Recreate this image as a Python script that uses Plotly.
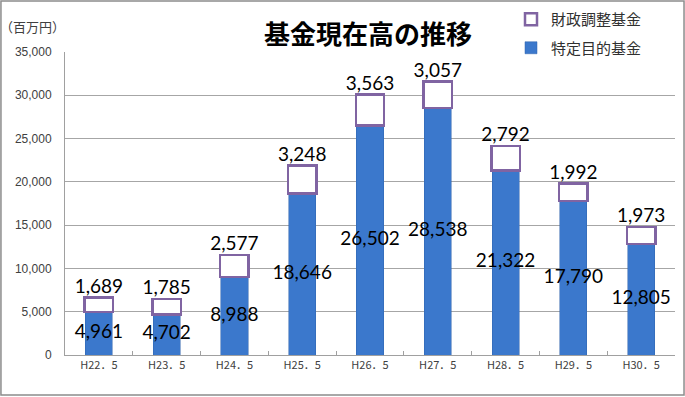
import plotly.graph_objects as go

categories = ["H22．5", "H23．5", "H24．5", "H25．5", "H26．5", "H27．5", "H28．5", "H29．5", "H30．5"]
tokutei = [4961, 4702, 8988, 18646, 26502, 28538, 21322, 17790, 12805]
zaisei = [1689, 1785, 2577, 3248, 3563, 3057, 2792, 1992, 1973]
totals = [a + b for a, b in zip(tokutei, zaisei)]
mids = [a / 2 for a in tokutei]

label_font = dict(family="Lato, Liberation Sans, sans-serif", size=19, color="#000000")

fig = go.Figure()
fig.add_trace(go.Bar(
    x=categories, y=tokutei, name="特定目的基金", width=0.4,
    legendgroup="b", legendrank=2,
    marker=dict(color="#3b78cc", line=dict(color="#2f63ad", width=0.5)),
))
fig.add_trace(go.Bar(
    x=categories, y=zaisei, name="財政調整基金", width=0.42,
    legendgroup="a", legendrank=1,
    marker=dict(color="#ffffff", line=dict(color="#8064a2", width=2.5)),
))
fig.add_trace(go.Scatter(
    x=categories, y=mids, mode="text", text=[f"{v:,}" for v in tokutei],
    textposition="middle center", textfont=label_font, showlegend=False, hoverinfo="skip",
))
fig.add_trace(go.Scatter(
    x=categories, y=totals, mode="text", text=[f"{v:,}" for v in zaisei],
    textposition="top center", textfont=label_font, showlegend=False, hoverinfo="skip",
))

fig.update_layout(
    width=685, height=397,
    barmode="stack",
    paper_bgcolor="white", plot_bgcolor="white",
    margin=dict(l=65, r=10, t=52, b=42, autoexpand=False),
    font=dict(family="Noto Sans CJK JP, sans-serif", color="#404040"),
    title=dict(text="<b>基金現在高の推移</b>", xref="container", yref="container",
               x=368 / 685, xanchor="center", y=1 - 35 / 397, yanchor="middle",
               font=dict(family="Noto Sans CJK JP, sans-serif", size=26, color="#000000")),
    legend=dict(xref="container", yref="container", x=511 / 685, y=1 - 3 / 397,
                xanchor="left", yanchor="top",
                font=dict(family="Noto Sans CJK JP, sans-serif", size=15, color="#303030"),
                itemwidth=30, tracegroupgap=6, bgcolor="rgba(0,0,0,0)"),
    showlegend=True,
    xaxis=dict(
        showline=True, linecolor="#a0a0a0", linewidth=1,
        ticks="inside", ticklen=4, tickcolor="#a0a0a0", tickson="boundaries",
        tickfont=dict(family="Noto Sans CJK JP, sans-serif", size=11, color="#404040"),
    ),
    yaxis=dict(
        range=[0, 35000], dtick=5000, tickformat=",",
        showgrid=True, gridcolor="#a6a6a6", gridwidth=1,
        showline=True, linecolor="#a0a0a0", linewidth=1,
        tickfont=dict(family="Liberation Sans, sans-serif", size=12, color="#404040"),
        ticks="", ticklabelstandoff=10,
    ),
    annotations=[dict(
        text="（百万円）", xref="paper", yref="paper", x=-0.11, y=1.085,
        xanchor="left", yanchor="middle", showarrow=False,
        font=dict(family="Noto Sans CJK JP, sans-serif", size=13, color="#404040"),
    )],
    shapes=[dict(
        type="rect", xref="paper", yref="paper",
        x0=-0.105, x1=1.0148, y0=-0.132, y1=1.168,
        line=dict(color="#8c8c8c", width=1.5), fillcolor="rgba(0,0,0,0)", layer="below",
    )],
)

fig.write_html("out.html", config={"displayModeBar": False},
               post_script="document.body.style.margin='0';document.body.style.overflow='hidden';")
